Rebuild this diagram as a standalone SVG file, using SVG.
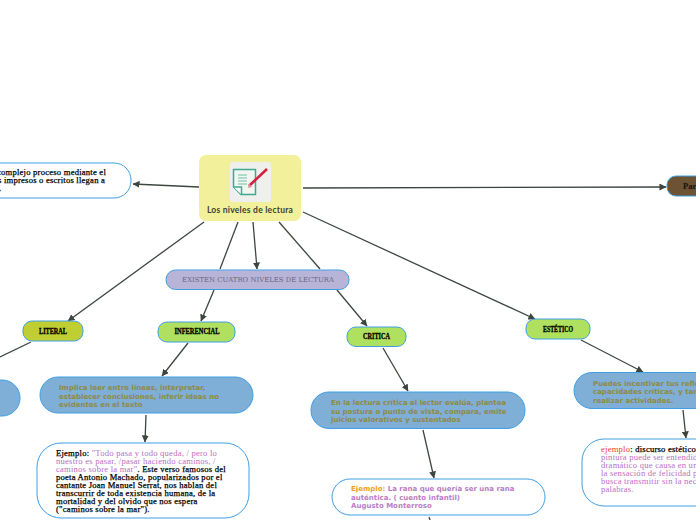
<svg xmlns="http://www.w3.org/2000/svg" width="696" height="520" viewBox="0 0 696 520">
<style>
.n{stroke:#3f9fe3;stroke-width:1}
.w{fill:#fff}
.b{fill:#7faed6}
.g{fill:#b0e060}
.c{fill:none;stroke:#3c463e;stroke-width:1.3}
.ex{font:8.6px "Liberation Serif",serif;letter-spacing:.22px;fill:#000}
.k{stroke:#000;stroke-width:.25}
.ex .p{fill:#b86fc2;stroke:none}
.bt{font:bold 7px "DejaVu Sans",sans-serif;fill:#8f8a45}
.lv{font:bold 7.500px "Liberation Serif",serif;fill:#000;stroke:#000;stroke-width:.3;text-anchor:middle}
</style>
<defs>
<marker id="a" viewBox="0 0 8 8" refX="7.5" refY="4" markerWidth="7" markerHeight="7" markerUnits="userSpaceOnUse" orient="auto"><path d="M0 0L8 4L0 8Z" fill="#3c463e"/></marker>
</defs>
<g id="connectors">
<path class="c" marker-end="url(#a)" d="M199 187L133 184"/>
<path class="c" marker-end="url(#a)" d="M303 188L666 187"/>
<path class="c" marker-end="url(#a)" d="M204 222L68 321"/>
<path class="c" d="M238 222L220 269"/>
<path class="c" marker-end="url(#a)" d="M214 290L201 321"/>
<path class="c" marker-end="url(#a)" d="M253 222L257 269"/>
<path class="c" d="M279 222L320 269"/>
<path class="c" marker-end="url(#a)" d="M337 290L367 326"/>
<path class="c" marker-end="url(#a)" d="M303 212L535 319"/>
<path class="c" d="M31 342L0 357"/>
<path class="c" marker-end="url(#a)" d="M188 343L162 376"/>
<path class="c" marker-end="url(#a)" d="M146 415L145 442"/>
<path class="c" marker-end="url(#a)" d="M383 348L408 391"/>
<path class="c" marker-end="url(#a)" d="M423 430L434 478"/>
<path class="c" marker-end="url(#a)" d="M581 340L643 372"/>
<path class="c" marker-end="url(#a)" d="M683 410L686 438"/>
<path class="c" d="M429 517L430 520"/>
</g>
<g id="central">
<rect x="199" y="155" width="102" height="66" rx="7" fill="#f3f09b"/>
<rect x="230" y="162" width="41" height="40" rx="3" fill="#eff0ee"/>
<path d="M233.500 169.500H255.500V194.500H241L233.500 187Z" fill="#f2f5f0" stroke="#3fa98f" stroke-width="1.500"/>
<path d="M233.500 187H241.500V194.500" fill="#fff" stroke="#3fa98f" stroke-width="1.500"/>
<path d="M238 175h9M238 178h9M238 181h9M238 184h9" stroke="#6cbfa8" stroke-width="1"/>
<path d="M249 186L267 169" stroke="#d2203f" stroke-width="2.600"/>
<path d="M249 183.500L252 187L248 188Z" fill="#e58a9a"/>
<text x="250" y="213" text-anchor="middle" font-family="Lato,sans-serif" font-weight="700" font-size="8.500" letter-spacing=".25" fill="#3a3f38">Los niveles de lectura</text>
</g>
<g id="definicion">
<rect class="n w" x="-60" y="163" width="191" height="35" rx="17"/>
<text class="ex k"><tspan x="-3" y="175">complejo proceso mediante el</tspan><tspan x="-2" y="183">s impresos o escritos llegan a</tspan><tspan x="-1" y="191">.</tspan></text>
</g>
<g id="partes">
<rect class="n" x="667" y="176" width="60" height="20" rx="9" fill="#6b5333"/>
<text x="683" y="189" font-family="Liberation Serif,serif" font-weight="bold" font-size="8.500" fill="#111">Par</text>
</g>
<g id="existen">
<rect class="n" x="166" y="270" width="183" height="19.500" rx="9.500" fill="#b8b4d8"/>
<text x="258" y="282" text-anchor="middle" font-family="DejaVu Serif,serif" font-size="6.900" fill="#6b6780">EXISTEN CUATRO NIVELES DE LECTURA</text>
</g>
<g id="literal">
<rect class="n" x="23" y="321" width="60" height="20" rx="9" fill="#bfcf33"/>
<text class="lv" x="53" y="334" textLength="28" lengthAdjust="spacingAndGlyphs">LITERAL</text>
</g>
<g id="literal-detalle">
<rect class="n b" x="-60" y="380" width="80" height="36" rx="18"/>
</g>
<g id="inferencial">
<rect class="n g" x="158" y="322" width="77" height="20" rx="9"/>
<text class="lv" x="197" y="334" textLength="45" lengthAdjust="spacingAndGlyphs">INFERENCIAL</text>
</g>
<g id="inferencial-detalle">
<rect class="n b" x="40" y="377" width="213" height="36" rx="18"/>
<text class="bt"><tspan x="59" y="390">Implica leer entre líneas, interpretar,</tspan><tspan x="59" y="398.500">establecer conclusiones, inferir ideas no</tspan><tspan x="59" y="407">evidentes en el texto</tspan></text>
</g>
<g id="inferencial-ejemplo">
<rect class="n w" x="37" y="443" width="212" height="75" rx="24"/>
<text class="ex k"><tspan x="56" y="455.500">Ejemplo:</tspan><tspan class="p"> "Todo pasa y todo queda, / pero lo</tspan><tspan class="p" x="56" y="463.500">nuestro es pasar, /pasar haciendo caminos, /</tspan><tspan class="p" x="56" y="471.500">caminos sobre la mar"</tspan><tspan>. Este verso famosos del</tspan><tspan x="56" y="479.500">poeta Antonio Machado, popularizados por el</tspan><tspan x="56" y="487.500">cantante Joan Manuel Serrat, nos hablan del</tspan><tspan x="56" y="495.500">transcurrir de toda existencia humana, de la</tspan><tspan x="56" y="503.500">mortalidad y del olvido que nos espera</tspan><tspan x="56" y="511.500">("caminos sobre la mar").</tspan></text>
</g>
<g id="critica">
<rect class="n g" x="347" y="327" width="59" height="19.500" rx="9"/>
<text class="lv" x="376.500" y="339" textLength="27" lengthAdjust="spacingAndGlyphs">CRITICA</text>
</g>
<g id="critica-detalle">
<rect class="n b" x="311" y="392" width="214" height="36.500" rx="18"/>
<text class="bt"><tspan x="331" y="405">En la lectura crítica el lector evalúa, plantea</tspan><tspan x="331" y="413.500">su postura o punto de vista, compara, emite</tspan><tspan x="331" y="422">juicios valorativos y sustentados</tspan></text>
</g>
<g id="critica-ejemplo">
<rect class="n w" x="332" y="479" width="213" height="36" rx="18"/>
<text class="bt" style="fill:#b97cc4"><tspan x="351" y="491" style="fill:#f0a020">Ejemplo:</tspan><tspan> La rana que quería ser una rana</tspan><tspan x="351" y="499.500">auténtica. ( cuento infantil)</tspan><tspan x="351" y="508">Augusto Monterroso</tspan></text>
</g>
<g id="estetico">
<rect class="n g" x="526" y="319" width="64" height="20" rx="9"/>
<text class="lv" x="558" y="332" textLength="30" lengthAdjust="spacingAndGlyphs">ESTÉTICO</text>
</g>
<g id="estetico-detalle">
<rect class="n b" x="574" y="372.500" width="180" height="36" rx="18"/>
<text class="bt"><tspan x="593" y="385.500">Puedes incentivar tus reflexiones,</tspan><tspan x="593" y="394">capacidades críticas, y también</tspan><tspan x="593" y="402.500">realizar actividades.</tspan></text>
</g>
<g id="estetico-ejemplo">
<rect class="n w" x="582" y="439" width="180" height="67" rx="22"/>
<text class="ex"><tspan x="601" y="451.500" fill="#ee4035">ejemplo</tspan><tspan class="k">: discurso estético</tspan><tspan class="p" x="601" y="459.500">pintura puede ser entendida</tspan><tspan class="p" x="601" y="467.500">dramático que causa en un</tspan><tspan class="p" x="601" y="475.500">la sensación de felicidad pero</tspan><tspan class="p" x="601" y="483.500">busca transmitir sin la necesidad</tspan><tspan class="p" x="601" y="491.500">palabras.</tspan></text>
</g>
</svg>
